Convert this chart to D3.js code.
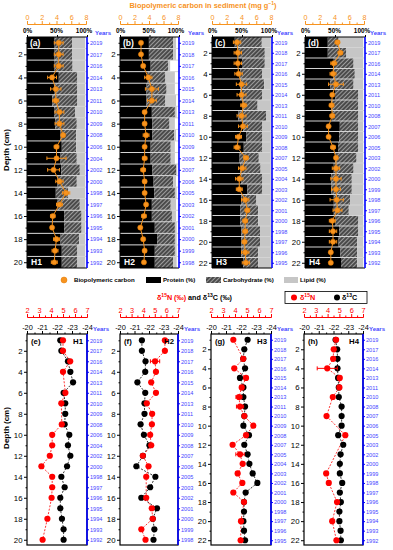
<!DOCTYPE html>
<html>
<head>
<meta charset="utf-8">
<script src="https://cdn.jsdelivr.net/npm/d3@7/dist/d3.min.js"></script>
<style>
  body { margin: 0; background: #fff; }
  svg { font-family: "Liberation Sans", Arial, sans-serif; }
</style>
</head>
<body>
<svg id="chart" width="393" height="550"></svg>
<script>
// depths (cm)
const depth20 = [1,2,3,4,5,6,7,8,9,10,11,12,13,14,15,16,17,18,19,20];
const depth22 = [1,2,3,4,5,6,7,8,9,10,11,12,13,14,15,16,17,18,19,20,21,22];

// years on the right axis
const yearsH1 = [2019,2017,2016,2014,2013,2011,2010,2009,2008,2006,2004,2002,2000,1998,1997,1996,1995,1994,1993,1992];
const yearsH2 = [2019,2018,2017,2016,2015,2014,2013,2011,2010,2009,2008,2007,2006,2005,2003,2002,2001,2000,1999,1998];
const yearsH3 = [2019,2018,2017,2016,2015,2014,2013,2011,2010,2009,2008,2007,2005,2004,2003,2002,2001,2000,1998,1997,1996,1995];
const yearsH4 = [2019,2017,2016,2014,2013,2011,2010,2008,2007,2006,2005,2003,2002,2000,1999,1998,1997,1996,1995,1994,1993,1992];

// composition (%)
const proteinH1 = [46,46,46,53,45,42,45,47,56,58,56,57,51,48,50,62,62,56,58,58];
const carbH1    = [29,29,30,31,39,42,35,36,26,24,27,31,32,21,38,29,29,31,26,26];
const lipidH1   = [22,22,21,13,13,13,17,14,15,15,14,9,14,28,9,6,6,10,13,13];
const proteinH2 = [49,49,52,47,45,45,54,55,55,52,52,55,57,58,54,54,59,63,59,59];
const carbH2    = [41,41,30,30,34,32,39,29,37,34,34,40,33,35,32,34,34,30,34,31];
const lipidH2   = [5,5,3,16,14,18,3,9,3,7,7,2,5,3,9,7,3,3,3,6];
const proteinH3 = [38,44,50,47,47,47,51,44,52,57,53,46,47,49,59,49,47,47,49,49,49,52];
const carbH3    = [45,44,38,37,40,37,25,46,32,27,31,32,34,35,25,25,30,30,31,31,28,25];
const lipidH3   = [15,10,10,14,11,14,22,8,14,14,14,20,17,14,14,24,21,21,18,18,21,21];
const proteinH4 = [38,38,48,47,42,50,44,46,58,57,55,50,48,44,44,48,48,51,57,56,59,60];
const carbH4    = [18,31,33,36,39,39,45,43,31,32,34,36,33,34,34,27,25,38,32,31,28,27];
const lipidH4   = [41,28,16,14,16,8,8,8,8,8,8,11,16,19,19,22,24,8,8,10,10,10];

// biopolymeric carbon (mg g-1) and error
const bcH1    = [4.3,4.3,4.3,3.4,3.9,3.9,4.4,4.4,4.9,4.0,4.0,3.6,4.4,5.3,4.4,3.5,3.4,4.0,3.8,3.7];
const bcErrH1 = [0.6,0.6,0.6,0.6,0.7,0.4,0.6,0.6,0.2,0.3,1.3,0.8,0.5,0.5,0.4,0.3,0.2,0.4,0.4,0.4];
const bcH2    = [2.9,2.9,3.2,3.9,4.4,4.4,3.4,3.4,3.6,3.4,3.4,3.2,3.4,3.4,3.6,3.3,2.8,3.2,3.4,3.3];
const bcErrH2 = [0.1,0.1,0.2,0.5,0.9,0.6,0.2,0.2,0.4,0.2,0.3,0.3,0.2,0.2,0.2,0.3,0.2,0.2,0.2,0.2];
const bcH3    = [3.4,3.5,3.5,3.6,4.0,4.0,4.3,4.0,4.2,3.6,3.4,4.6,4.1,3.7,3.7,4.5,4.8,4.5,4.5,4.4,4.5,4.6];
const bcErrH3 = [0.5,0.5,0.5,0.5,0.7,0.6,0.4,0.6,0.6,0.4,0.4,0.3,0.5,0.5,0.4,0.5,0.3,0.3,0.3,0.3,0.5,0.5];
const bcH4    = [4.4,4.8,3.9,3.8,4.2,3.7,3.6,3.7,3.2,3.2,3.8,4.2,4.2,4.2,4.2,4.3,4.4,3.7,3.8,3.8,3.5,3.5];
const bcErrH4 = [0.3,0.3,0.4,0.4,1.0,0.2,0.3,0.3,0.1,0.1,0.3,0.2,0.5,0.7,0.6,0.9,0.6,0.4,0.5,0.5,0.2,0.2];

// isotopes (permil), null = not measured
const d15NH1 = [5.0,5.0,5.6,5.0,null,5.2,4.86,null,4.9,4.1,4.1,3.9,3.2,4.1,4.1,4.05,null,3.7,null,3.3];
const d13CH1 = [-22.22,-22.29,-22.73,-22.89,-23.07,-22.44,-22.55,-22.55,-22.51,-22.82,-22.73,-22.89,-22.67,-22.29,-22.51,-22.22,-22.22,-22.33,-22.44,-22.44];
const d15NErrH1 = [0,0,0,0,0,0,0,0,0,0,0,0,0,0,0,0,0,0,0,0];
const d15NH2 = [5.87,5.87,5.02,5.1,4.69,5.1,4.31,4.77,4.75,4.6,4.69,3.97,4.46,4.26,null,4.26,4.74,4.82,3.84,4.2];
const d13CH2 = [-21.51,-21.51,-21.76,-21.74,-21.2,-21.74,-21.69,-21.69,-21.42,-21.65,-22.03,-21.58,-21.13,-22.44,-22.08,-21.47,-22.55,-22.26,-22.37,-22.31];
const d15NErrH2 = [0,0,0.4,0,0,0,0,0,0,0,0,0,0,0,0,0,0,0,0,0];
const d15NH3 = [3.86,null,4.69,3.94,4.92,4.56,4.33,4.42,4.78,5.53,4.92,3.8,4.42,4.64,4.22,4.61,3.86,4.75,null,4.5,null,4.47];
const d13CH3 = [-22.44,-22.22,-22.15,-22.27,-21.93,-22.16,-22.16,-22.27,-22.22,-22.16,-22.53,-22.22,-22.44,-22.56,-22.78,-23.09,-22.31,-22.2,-22.2,-22.16,-22.2,-22.27];
const d15NErrH3 = [0,0,0,0,0,0,0.25,0.3,0,0,0,0,0.35,0,0,0,0,0,0,0,0,0];
const d15NH4 = [4.72,4.52,4.47,3.97,5.03,5.0,4.44,null,3.91,null,5.5,null,null,null,3.88,4.1,null,4.8,null,4.39,null,4.75];
const d13CH4 = [-22.14,-22.25,-22.27,-22.27,-22.31,-22.36,-22.36,-22.55,-22.55,-22.55,-22.32,-22.66,-22.48,-22.43,-22.43,-22.59,-22.43,-22.5,-22.4,-22.4,-22.48,-22.5];
const d15NErrH4 = [0,0,0,0.85,0,0,0,0,0,0,0,0,0,0,0,0,0,0,0,0,0,0];

const ORANGE = "#f7931e";
const BLUE = "#0000ff";
const YEARBLUE = "#4646ff";
const RED = "#ff0000";

const svg = d3.select("#chart");

// hatch for carbohydrate
const pat = svg.append("defs").append("pattern")
  .attr("id", "hatch")
  .attr("patternUnits", "userSpaceOnUse")
  .attr("width", 3).attr("height", 3)
  .attr("patternTransform", "rotate(45)");
pat.append("rect").attr("width", 3).attr("height", 3).attr("fill", "#4a4a4a");
pat.append("line").attr("x1", 0.5).attr("y1", 0).attr("x2", 0.5).attr("y2", 3)
  .attr("stroke", "#9c9c9c").attr("stroke-width", 1);

const topCores = [
  {tag: "(a)", h: "H1", depth: depth20, years: yearsH1, protein: proteinH1, carb: carbH1, lipid: lipidH1, bc: bcH1, err: bcErrH1, x0: 27, x1: 87, yl: 95},
  {tag: "(b)", h: "H2", depth: depth20, years: yearsH2, protein: proteinH2, carb: carbH2, lipid: lipidH2, bc: bcH2, err: bcErrH2, x0: 120, x1: 179, yl: 188},
  {tag: "(c)", h: "H3", depth: depth22, years: yearsH3, protein: proteinH3, carb: carbH3, lipid: lipidH3, bc: bcH3, err: bcErrH3, x0: 212, x1: 272, yl: 277},
  {tag: "(d)", h: "H4", depth: depth22, years: yearsH4, protein: proteinH4, carb: carbH4, lipid: lipidH4, bc: bcH4, err: bcErrH4, x0: 305, x1: 365, yl: 370}
];

const botCores = [
  {tag: "(e)", h: "H1", depth: depth20, years: yearsH1, n: d15NH1, c: d13CH1, ne: d15NErrH1, x0: 27, x1: 87},
  {tag: "(f)", h: "H2", depth: depth20, years: yearsH2, n: d15NH2, c: d13CH2, ne: d15NErrH2, x0: 120, x1: 178},
  {tag: "(g)", h: "H3", depth: depth22, years: yearsH3, n: d15NH3, c: d13CH3, ne: d15NErrH3, x0: 211, x1: 271},
  {tag: "(h)", h: "H4", depth: depth22, years: yearsH4, n: d15NH4, c: d13CH4, ne: d15NErrH4, x0: 304, x1: 363}
];

function styleAxis(g, color, size) {
  g.select(".domain").attr("stroke", color).attr("stroke-width", 1);
  g.selectAll(".tick line").attr("stroke", color);
  g.selectAll(".tick text").attr("fill", color).attr("font-size", size);
}

function rightYears(g, c, y, top, bottom) {
  g.append("line").attr("x1", c.x1).attr("x2", c.x1).attr("y1", top).attr("y2", bottom)
    .attr("stroke", BLUE).attr("stroke-width", 1.6);
  const ax = g.append("g").attr("transform", `translate(${c.x1},0)`)
    .call(d3.axisRight(y).tickValues(c.depth).tickSize(2).tickPadding(1).tickFormat((d, i) => c.years[i]));
  ax.select(".domain").remove();
  ax.selectAll(".tick line").attr("stroke", BLUE);
  ax.selectAll(".tick text").attr("fill", YEARBLUE).attr("font-size", 5.6);
}

function leftDepth(g, c, y, minorSize) {
  const maj = c.depth.filter(d => d % 2 === 0);
  const mnr = c.depth.filter(d => d % 2 === 1);
  const ax = g.append("g").attr("transform", `translate(${c.x0},0)`)
    .call(d3.axisLeft(y).tickValues(maj).tickSize(3).tickPadding(1.5).tickFormat(d => d));
  ax.select(".domain").remove();
  ax.selectAll(".tick text").attr("font-size", 7.8).attr("fill", "#000");
  g.append("g").attr("transform", `translate(${c.x0},0)`)
    .call(d3.axisLeft(y).tickValues(mnr).tickSize(minorSize).tickFormat(""))
    .select(".domain").remove();
}

// ---------- top panels ----------
const T0 = 37, T1 = 268;

topCores.forEach(c => {
  const g = svg.append("g");
  const x = d3.scaleLinear().domain([0, 100]).range([c.x0, c.x1]);
  const xo = d3.scaleLinear().domain([0, 8]).range([c.x0, c.x1 - 1]);
  const y = d3.scaleLinear().domain([0.5, c.depth[c.depth.length - 1] + 0.5]).range([T0, T1]);
  const rows = c.depth.map((d, i) => ({d, p: c.protein[i], cb: c.carb[i], l: c.lipid[i], bc: c.bc[i], e: c.err[i]}));

  const segs = [];
  rows.forEach(r => {
    segs.push({d: r.d, a: 0, b: r.p, fill: "#000"});
    segs.push({d: r.d, a: r.p, b: r.p + r.cb, fill: "url(#hatch)"});
    segs.push({d: r.d, a: r.p + r.cb, b: r.p + r.cb + r.l, fill: "#c6c6c6"});
  });
  g.selectAll("rect.seg").data(segs).join("rect")
    .attr("class", "seg")
    .attr("x", s => x(s.a))
    .attr("width", s => x(s.b) - x(s.a))
    .attr("y", s => y(s.d - 0.5))
    .attr("height", s => y(s.d + 0.5) - y(s.d - 0.5))
    .attr("fill", s => s.fill);

  // row separators
  g.selectAll("line.sep").data(rows.slice(1)).join("line")
    .attr("class", "sep")
    .attr("x1", c.x0).attr("x2", c.x1)
    .attr("y1", r => y(r.d - 0.5)).attr("y2", r => y(r.d - 0.5))
    .attr("stroke", "#d4d4d4").attr("stroke-width", 1);

  // frame (left, top, bottom)
  g.append("path")
    .attr("d", `M${c.x1},${T0}H${c.x0}V${T1}H${c.x1}`)
    .attr("fill", "none").attr("stroke", "#000").attr("stroke-width", 1);

  // percent axis on top
  const px = g.append("g").attr("transform", `translate(0,${T0})`)
    .call(d3.axisTop(x).tickValues([0, 50, 100]).tickSize(2).tickPadding(2).tickFormat(d => d + "%"));
  px.select(".domain").remove();
  px.selectAll(".tick text").attr("font-size", 6.4).attr("font-weight", "bold")
    .attr("dx", d => d === 100 ? -3.5 : (d === 50 ? -1 : 0));

  // orange carbon axis
  const ox = g.append("g").attr("transform", "translate(0,24)")
    .call(d3.axisTop(xo).tickValues([0, 2, 4, 6, 8]).tickSize(3).tickPadding(1.5).tickFormat(d => d));
  styleAxis(ox, ORANGE, 7.2);
  g.append("g").attr("transform", "translate(0,24)")
    .call(d3.axisTop(xo).tickValues([1, 3, 5, 7]).tickSize(1.5).tickFormat(""))
    .call(a => { a.select(".domain").remove(); a.selectAll("line").attr("stroke", ORANGE); });

  leftDepth(g, c, y, 1.5);
  rightYears(g, c, y, T0, T1);

  g.append("text").attr("x", c.yl).attr("y", 35).text("Years")
    .attr("fill", YEARBLUE).attr("font-size", 6).attr("font-weight", "bold");

  // biopolymeric carbon line + error bars + dots
  g.append("path").datum(rows)
    .attr("d", d3.line().x(r => xo(r.bc)).y(r => y(r.d)))
    .attr("fill", "none").attr("stroke", ORANGE).attr("stroke-width", 1);
  const eb = g.selectAll("g.eb").data(rows).join("g").attr("class", "eb");
  eb.append("line")
    .attr("x1", r => xo(r.bc - r.e)).attr("x2", r => xo(r.bc + r.e))
    .attr("y1", r => y(r.d)).attr("y2", r => y(r.d))
    .attr("stroke", ORANGE).attr("stroke-width", 1);
  [-1, 1].forEach(s => {
    eb.append("line")
      .attr("x1", r => xo(r.bc + s * r.e)).attr("x2", r => xo(r.bc + s * r.e))
      .attr("y1", r => y(r.d) - 1.8).attr("y2", r => y(r.d) + 1.8)
      .attr("stroke", ORANGE).attr("stroke-width", 1);
  });
  g.selectAll("circle.bc").data(rows).join("circle")
    .attr("class", "bc")
    .attr("cx", r => xo(r.bc)).attr("cy", r => y(r.d)).attr("r", 2.6)
    .attr("fill", ORANGE).attr("stroke", "#e07800").attr("stroke-width", 0.5);

  g.append("text").attr("x", c.x0 + 3).attr("y", T0 + 9).text(c.tag)
    .attr("fill", "#fff").attr("font-size", 8.5).attr("font-weight", "bold");
  g.append("text").attr("x", c.x0 + 4).attr("y", T1 - 3).text(c.h)
    .attr("fill", "#fff").attr("font-size", 8.5).attr("font-weight", "bold");
});

// top title
const tt = svg.append("text").attr("x", 203).attr("y", 8).attr("text-anchor", "middle")
  .attr("fill", ORANGE).attr("font-size", 7.4).attr("font-weight", "bold");
tt.append("tspan").text("Biopolymeric carbon in sediment (mg g");
tt.append("tspan").text("\u22121").attr("font-size", 5).attr("dy", -3);
tt.append("tspan").text(")").attr("dy", 3);

// depth labels
[150, 428].forEach(cy => {
  svg.append("text").attr("transform", `translate(9,${cy}) rotate(-90)`)
    .attr("text-anchor", "middle").attr("font-size", 8).attr("font-weight", "bold")
    .text("Depth (cm)");
});

// top legend
const lg = svg.append("g").attr("font-size", 6.1).attr("font-weight", "bold");
lg.append("circle").attr("cx", 64).attr("cy", 280).attr("r", 3).attr("fill", ORANGE).attr("stroke", "#e07800").attr("stroke-width", 0.5);
lg.append("text").attr("x", 74).attr("y", 282.2).text("Biopolymeric carbon");
lg.append("rect").attr("x", 146).attr("y", 277).attr("width", 15).attr("height", 6).attr("fill", "#000");
lg.append("text").attr("x", 163).attr("y", 282.2).text("Protein (%)");
lg.append("rect").attr("x", 206).attr("y", 277).attr("width", 15).attr("height", 6).attr("fill", "url(#hatch)");
lg.append("text").attr("x", 223).attr("y", 282.2).text("Carbohydrate (%)");
lg.append("rect").attr("x", 284).attr("y", 277).attr("width", 14).attr("height", 6).attr("fill", "#c6c6c6");
lg.append("text").attr("x", 300).attr("y", 282.2).text("Lipid (%)");

// bottom title
const bt = svg.append("text").attr("x", 157).attr("y", 300).attr("font-size", 7.2).attr("font-weight", "bold");
bt.append("tspan").text("\u03b4").attr("fill", RED);
bt.append("tspan").text("15").attr("fill", RED).attr("font-size", 5).attr("dy", -3);
bt.append("tspan").text("N (\u2030)").attr("fill", RED).attr("dy", 3);
bt.append("tspan").text("  and \u03b4").attr("fill", "#000");
bt.append("tspan").text("13").attr("font-size", 5).attr("dy", -3);
bt.append("tspan").text("C (\u2030)").attr("dy", 3);

// bottom legend
const bl = svg.append("g").attr("font-size", 7.2).attr("font-weight", "bold");
bl.append("rect").attr("x", 285).attr("y", 291.5).attr("width", 82).attr("height", 12)
  .attr("fill", "#fff").attr("stroke", "#000").attr("stroke-width", 0.8);
bl.append("circle").attr("cx", 294).attr("cy", 297.5).attr("r", 3).attr("fill", RED);
const bln = bl.append("text").attr("x", 300).attr("y", 300.2).attr("fill", RED);
bln.append("tspan").text("\u03b4");
bln.append("tspan").text("15").attr("font-size", 5).attr("dy", -3);
bln.append("tspan").text("N").attr("dy", 3);
bl.append("circle").attr("cx", 337).attr("cy", 297.5).attr("r", 3).attr("fill", "#000");
const blc = bl.append("text").attr("x", 342).attr("y", 300.2).attr("fill", "#000");
blc.append("tspan").text("\u03b4");
blc.append("tspan").text("13").attr("font-size", 5).attr("dy", -3);
blc.append("tspan").text("C").attr("dy", 3);

// ---------- bottom panels ----------
const B0 = 334, B1 = 545;

botCores.forEach(c => {
  const g = svg.append("g");
  const xc = d3.scaleLinear().domain([-20, -24]).range([c.x0, c.x1]);
  const xn = d3.scaleLinear().domain([2, 7]).range([c.x0, c.x1]);
  const y = d3.scaleLinear().domain([0.4, c.depth[c.depth.length - 1] + 0.5]).range([B0, B1]);
  const rows = c.depth.map((d, i) => ({d, n: c.n[i], c: c.c[i], e: c.ne[i]}));
  const nRows = rows.filter(r => r.n !== null);

  g.append("rect").attr("x", c.x0).attr("y", B0).attr("width", c.x1 - c.x0).attr("height", B1 - B0)
    .attr("fill", "#fff").attr("stroke", "#000").attr("stroke-width", 1.2);

  // d13C axis on panel top
  const cx = g.append("g").attr("transform", `translate(0,${B0})`)
    .call(d3.axisTop(xc).tickValues([-20, -21, -22, -23, -24]).tickSize(3).tickPadding(1.5).tickFormat(d => "-" + Math.abs(d)));
  styleAxis(cx, "#000", 7.4);
  cx.select(".domain").remove();
  g.append("g").attr("transform", `translate(0,${B0})`)
    .call(d3.axisTop(xc).tickValues([-20.5, -21.5, -22.5, -23.5]).tickSize(1.5).tickFormat(""))
    .select(".domain").remove();

  // d15N axis above
  const nx = g.append("g").attr("transform", "translate(0,317)")
    .call(d3.axisTop(xn).tickValues([2, 3, 4, 5, 6, 7]).tickSize(3).tickPadding(1.5).tickFormat(d => d));
  styleAxis(nx, RED, 7.4);
  g.append("g").attr("transform", "translate(0,317)")
    .call(d3.axisTop(xn).tickValues([2.5, 3.5, 4.5, 5.5, 6.5]).tickSize(1.5).tickFormat(""))
    .call(a => { a.select(".domain").remove(); a.selectAll("line").attr("stroke", RED); });

  leftDepth(g, c, y, 1.5);
  rightYears(g, c, y, B0, B1);
  g.append("text").attr("x", c.x1 + 6).attr("y", 331).text("Years")
    .attr("fill", YEARBLUE).attr("font-size", 6).attr("font-weight", "bold");

  // dashed profile lines
  g.append("path").datum(rows)
    .attr("d", d3.line().x(r => xc(r.c)).y(r => y(r.d)))
    .attr("fill", "none").attr("stroke", "#000").attr("stroke-width", 0.8).attr("stroke-dasharray", "2,1.5");
  g.append("path").datum(nRows)
    .attr("d", d3.line().x(r => xn(r.n)).y(r => y(r.d)))
    .attr("fill", "none").attr("stroke", RED).attr("stroke-width", 0.8).attr("stroke-dasharray", "2,1.5");

  g.selectAll("circle.c13").data(rows).join("circle")
    .attr("class", "c13")
    .attr("cx", r => xc(r.c)).attr("cy", r => y(r.d)).attr("r", 3.1).attr("fill", "#000");

  const eb = g.selectAll("g.neb").data(nRows.filter(r => r.e > 0)).join("g").attr("class", "neb");
  eb.append("line")
    .attr("x1", r => xn(r.n - r.e)).attr("x2", r => xn(r.n + r.e))
    .attr("y1", r => y(r.d)).attr("y2", r => y(r.d))
    .attr("stroke", RED).attr("stroke-width", 1);
  [-1, 1].forEach(s => {
    eb.append("line")
      .attr("x1", r => xn(r.n + s * r.e)).attr("x2", r => xn(r.n + s * r.e))
      .attr("y1", r => y(r.d) - 2).attr("y2", r => y(r.d) + 2)
      .attr("stroke", RED).attr("stroke-width", 1);
  });

  g.selectAll("circle.n15").data(nRows).join("circle")
    .attr("class", "n15")
    .attr("cx", r => xn(r.n)).attr("cy", r => y(r.d)).attr("r", 3.1).attr("fill", RED);

  g.append("text").attr("x", c.x0 + 4).attr("y", B0 + 10).text(c.tag)
    .attr("font-size", 7.8).attr("font-weight", "bold");
  g.append("text").attr("x", c.x1 - 4).attr("y", B0 + 10).attr("text-anchor", "end").text(c.h)
    .attr("font-size", 7.8).attr("font-weight", "bold");
});
</script>
</body>
</html>
